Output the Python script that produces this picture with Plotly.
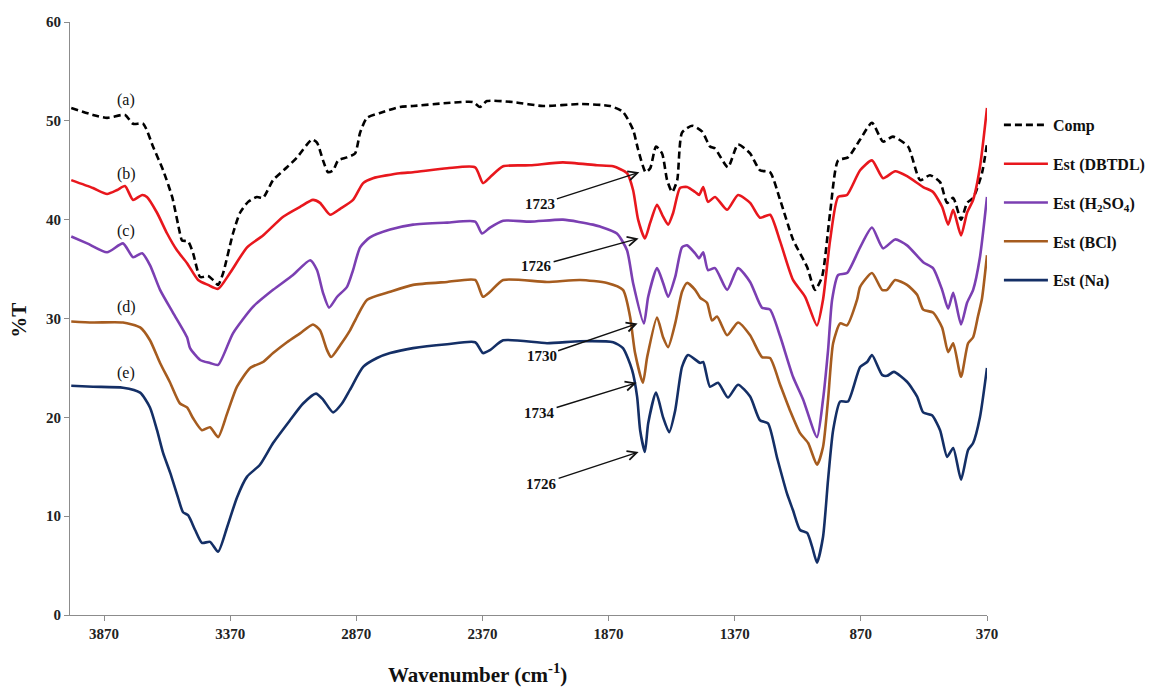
import plotly.graph_objects as go

# FTIR spectra: wavenumber (cm-1) vs transmittance (%T)
wn_comp = [4000, 3914, 3858, 3787, 3755, 3715, 3676, 3636, 3600, 3569, 3561, 3537, 3517, 3489, 3458,
           3438, 3418, 3398, 3359, 3331, 3299, 3264, 3240, 3200, 3145, 3105, 3046, 3026, 3002, 2982,
           2962, 2942, 2907, 2875, 2855, 2828, 2776, 2697, 2645, 2510, 2407, 2380, 2352, 2249, 2130,
           1983, 1864, 1813, 1773, 1753, 1723, 1705, 1682, 1658, 1638, 1618, 1598, 1579, 1539, 1499,
           1468, 1448, 1397, 1357, 1309, 1270, 1230, 1190, 1139, 1083, 1052, 1024, 992, 960, 921,
           873, 826, 782, 743, 683, 635, 596, 556, 528, 504, 473, 449, 425, 390, 370]
t_comp = [51.3, 50.6, 50.3, 50.6, 49.7, 49.7, 47.4, 45.0, 42.3, 38.6, 37.9, 37.8, 36.6, 34.2, 34.3,
          33.9, 33.4, 34.6, 38.6, 40.7, 41.8, 42.3, 42.2, 44.0, 45.3, 46.3, 48.1, 47.8, 46.0, 44.8,
          45.0, 46.0, 46.3, 46.7, 48.8, 50.3, 50.8, 51.4, 51.5, 51.8, 51.9, 51.4, 52.0, 51.9, 51.5,
          51.7, 51.5, 50.9, 49.1, 47.1, 44.8, 45.2, 47.4, 46.7, 44.0, 42.8, 44.0, 48.8, 49.5, 48.9,
          47.4, 47.2, 45.3, 47.6, 46.7, 45.0, 44.8, 42.0, 38.0, 35.2, 32.9, 34.2, 40.7, 46.0, 46.3,
          48.1, 49.8, 47.9, 48.4, 47.4, 44.0, 44.5, 43.8, 41.7, 42.2, 40.0, 41.7, 42.2, 44.7, 47.7]

wn_dbtdl = [4000, 3914, 3858, 3818, 3787, 3755, 3719, 3700, 3660, 3620, 3581, 3541, 3497, 3458, 3418,
            3371, 3303, 3240, 3160, 3093, 3042, 3014, 2974, 2934, 2883, 2843, 2804, 2697, 2645, 2510,
            2399, 2368, 2340, 2288, 2181, 2051, 1916, 1852, 1797, 1773, 1753, 1726, 1705, 1678, 1654,
            1634, 1614, 1587, 1559, 1527, 1511, 1495, 1476, 1448, 1400, 1357, 1309, 1270, 1230, 1190,
            1139, 1091, 1044, 1020, 992, 960, 925, 873, 826, 782, 734, 687, 623, 584, 548,
            524, 504, 473, 449, 425, 398, 370]
t_dbtdl = [44.0, 43.2, 42.6, 43.0, 43.4, 42.0, 42.5, 42.3, 40.7, 38.6, 36.9, 35.6, 33.9, 33.4, 33.0,
           34.6, 37.2, 38.4, 40.3, 41.3, 42.0, 41.7, 40.5, 41.1, 42.0, 43.7, 44.2, 44.7, 44.8, 45.2,
           45.3, 43.7, 44.3, 45.4, 45.5, 45.8, 45.5, 45.4, 44.7, 43.0, 40.0, 38.1, 39.7, 41.5, 40.3,
           39.5, 40.7, 43.2, 43.3, 42.8, 42.5, 43.3, 41.8, 42.3, 41.0, 42.5, 41.7, 40.2, 40.5, 37.8,
           33.9, 32.2, 29.3, 31.9, 37.9, 42.3, 42.5, 45.0, 46.0, 44.2, 44.9, 44.4, 43.3, 42.8, 41.3,
           39.5, 41.0, 38.4, 40.7, 42.0, 45.3, 51.3]

wn_h2so4 = [4000, 3937, 3858, 3795, 3755, 3719, 3688, 3648, 3597, 3541, 3529, 3489, 3450, 3418, 3359,
            3279, 3200, 3121, 3053, 3026, 3002, 2978, 2946, 2907, 2883, 2855, 2816, 2736, 2645, 2510,
            2399, 2372, 2340, 2288, 2181, 2051, 1932, 1904, 1837, 1797, 1773, 1730, 1713, 1678, 1654,
            1634, 1606, 1579, 1559, 1527, 1511, 1495, 1476, 1448, 1400, 1357, 1309, 1262, 1230, 1190,
            1139, 1099, 1044, 1020, 1000, 984, 960, 925, 873, 826, 782, 734, 687, 623, 584,
            548, 524, 504, 473, 449, 425, 398, 370]
t_h2so4 = [38.3, 37.6, 36.7, 37.6, 36.2, 36.6, 35.4, 32.9, 30.6, 28.1, 27.0, 25.8, 25.5, 25.3, 28.5,
           31.2, 32.9, 34.4, 35.9, 34.9, 32.6, 31.1, 32.2, 33.2, 34.9, 37.2, 38.2, 39.0, 39.5, 39.7,
           39.8, 38.6, 39.2, 39.9, 39.8, 40.0, 39.5, 39.3, 38.6, 36.9, 33.6, 29.5, 32.2, 35.1, 33.6,
           32.2, 34.2, 37.2, 37.4, 36.6, 36.1, 36.7, 34.9, 35.1, 32.9, 35.1, 33.7, 31.1, 30.9, 28.2,
           24.1, 21.8, 18.0, 21.8, 26.8, 31.9, 34.4, 34.6, 37.2, 39.2, 37.1, 38.0, 37.4, 35.7, 35.1,
           32.9, 31.0, 32.6, 29.4, 31.6, 32.9, 36.2, 42.3]

wn_bcl = [4000, 3914, 3795, 3727, 3688, 3648, 3608, 3569, 3541, 3517, 3482, 3450, 3418, 3382, 3343,
          3291, 3240, 3200, 3145, 3093, 3042, 3014, 2986, 2970, 2934, 2895, 2867, 2827, 2736, 2645,
          2510, 2399, 2368, 2340, 2288, 2114, 1983, 1876, 1813, 1785, 1765, 1734, 1717, 1678, 1654,
          1634, 1606, 1579, 1559, 1527, 1507, 1480, 1460, 1440, 1400, 1357, 1309, 1262, 1230, 1190,
          1151, 1111, 1079, 1044, 1020, 1000, 980, 952, 925, 885, 873, 826, 786, 766, 734,
          687, 647, 623, 584, 548, 524, 504, 473, 445, 425, 406, 390, 370]
t_bcl = [29.7, 29.6, 29.6, 29.1, 27.8, 25.5, 23.5, 21.4, 21.0, 19.9, 18.7, 19.0, 18.0, 20.4, 23.1,
         25.0, 25.6, 26.5, 27.6, 28.5, 29.4, 28.8, 26.8, 26.1, 27.3, 28.8, 30.2, 31.9, 32.7, 33.4,
         33.7, 33.9, 32.2, 32.7, 33.9, 33.7, 33.9, 33.6, 32.9, 30.2, 26.5, 23.5, 26.1, 30.1, 28.1,
         27.1, 29.5, 32.7, 33.6, 32.9, 32.1, 31.6, 29.8, 30.2, 28.3, 29.6, 28.3, 26.1, 26.0, 23.3,
         20.7, 18.4, 17.4, 15.2, 17.0, 21.8, 27.5, 29.5, 29.3, 31.9, 33.2, 34.6, 32.9, 32.9, 33.9,
         33.4, 32.4, 30.9, 30.6, 29.1, 26.6, 27.5, 24.1, 27.5, 28.1, 30.2, 32.0, 36.4]

wn_na = [4000, 3914, 3795, 3727, 3688, 3660, 3636, 3608, 3577, 3557, 3537, 3509, 3482, 3450, 3418,
         3382, 3343, 3303, 3252, 3200, 3133, 3081, 3030, 3002, 2962, 2927, 2895, 2843, 2788, 2736,
         2645, 2510, 2399, 2368, 2340, 2288, 2114, 1983, 1852, 1813, 1777, 1757, 1745, 1726, 1713,
         1682, 1654, 1630, 1606, 1579, 1555, 1507, 1495, 1468, 1436, 1397, 1357, 1309, 1270, 1238,
         1202, 1163, 1139, 1111, 1083, 1063, 1044, 1020, 1000, 980, 952, 921, 873, 845, 826,
         786, 766, 739, 687, 647, 623, 588, 556, 528, 504, 473, 445, 425, 398, 370]
t_na = [23.2, 23.1, 23.0, 22.5, 21.0, 18.7, 16.4, 14.4, 11.9, 10.4, 10.1, 8.6, 7.3, 7.4, 6.4,
        8.9, 11.9, 14.0, 15.2, 17.4, 19.7, 21.4, 22.4, 21.8, 20.5, 21.4, 22.8, 25.1, 26.0, 26.5,
        27.0, 27.4, 27.6, 26.5, 26.8, 27.8, 27.5, 27.7, 27.6, 27.0, 24.8, 22.1, 18.7, 16.5, 19.4,
        22.5, 20.0, 18.5, 20.7, 25.1, 26.3, 25.5, 25.6, 23.1, 23.5, 22.0, 23.3, 22.1, 19.7, 19.4,
        15.9, 12.3, 10.6, 8.6, 8.3, 6.9, 5.3, 7.9, 13.7, 18.7, 21.6, 21.6, 25.1, 25.6, 26.3,
        24.3, 24.2, 24.6, 23.6, 22.1, 20.5, 20.2, 18.7, 16.0, 16.9, 13.7, 16.7, 17.4, 20.0, 25.0]

series_names = ["Comp", "Est (DBTDL)", "Est (H<sub>2</sub>SO<sub>4</sub>)", "Est (BCl)", "Est (Na)"]
series_labels = ["(a)", "(b)", "(c)", "(d)", "(e)"]
series_x = [wn_comp, wn_dbtdl, wn_h2so4, wn_bcl, wn_na]
series_y = [t_comp, t_dbtdl, t_h2so4, t_bcl, t_na]
colors = ["#000000", "#E8171D", "#7B3FB2", "#A65C1F", "#142F66"]

# Carbonyl band positions marked on each spectrum
carbonyl_peaks = [1723, 1726, 1730, 1734, 1726]

tick_vals = [3870, 3370, 2870, 2370, 1870, 1370, 870, 370]

SERIF = "Liberation Serif, Times New Roman, serif"

fig = go.Figure()
for i, (name, xs, ys, c) in enumerate(zip(series_names, series_x, series_y, colors)):
    fig.add_trace(go.Scatter(
        x=xs, y=ys, mode="lines", name=name,
        legendgroup=f"g{i}",
        line=dict(color=c, width=2.6, shape="spline", smoothing=0.6,
                  dash="7px,4px" if i == 0 else "solid"),
        hoverinfo="skip",
    ))

# Spectrum letters at the left
label_y = [52.1, 44.6, 38.9, 31.2, 24.5]
for lab, ly in zip(series_labels, label_y):
    fig.add_annotation(x=3783, y=ly, text=lab, showarrow=False,
                       font=dict(family=SERIF, size=16, color="#111"))

# Arrows pointing at the carbonyl minima
arrow_offsets = [(-99, 32), (-102, 28), (-96, 33), (-97, 30), (-97, 32)]
for xs, ys, pk, (ax, ay) in zip(series_x, series_y, carbonyl_peaks, arrow_offsets):
    yv = ys[xs.index(pk)]
    fig.add_annotation(x=pk + 25, y=yv, text=f"<b>{pk}</b>", showarrow=True,
                       ax=ax, ay=ay, arrowhead=5, arrowsize=1.3, arrowwidth=1.4,
                       arrowcolor="#111", standoff=0,
                       font=dict(family=SERIF, size=15, color="#111"))

# Axis titles
fig.add_annotation(xref="paper", yref="paper", x=0.444, y=-0.099, xanchor="center", yanchor="middle",
                   text="<b>Wavenumber (cm<sup>-1</sup>)</b>",
                   showarrow=False, font=dict(family=SERIF, size=21, color="#111"))
fig.add_annotation(xref="paper", yref="paper", x=-0.055, y=0.497, xanchor="center", yanchor="middle",
                   text="<b>%T</b>", textangle=-90,
                   showarrow=False, font=dict(family=SERIF, size=21, color="#111"))

axis_common = dict(showgrid=False, zeroline=False, showline=True, linecolor="#8C8C8C", linewidth=1,
                   ticks="outside", ticklen=5, tickcolor="#8C8C8C",
                   tickfont=dict(family=SERIF, size=15, color="#222", weight="bold"))

fig.update_layout(
    width=1155, height=689,
    margin=dict(l=70, r=168, t=22, b=74, autoexpand=False),
    paper_bgcolor="white", plot_bgcolor="white",
    xaxis=dict(range=[4005, 370], tickvals=tick_vals, **axis_common),
    yaxis=dict(range=[0, 60], dtick=10, **axis_common),
    legend=dict(x=1.013, y=0.855, xanchor="left", yanchor="top", traceorder="grouped",
                tracegroupgap=15, itemwidth=44,
                font=dict(family=SERIF, size=16, color="#111", weight="bold"),
                bgcolor="rgba(0,0,0,0)"),
    showlegend=True,
)

fig.write_html("out.html")
